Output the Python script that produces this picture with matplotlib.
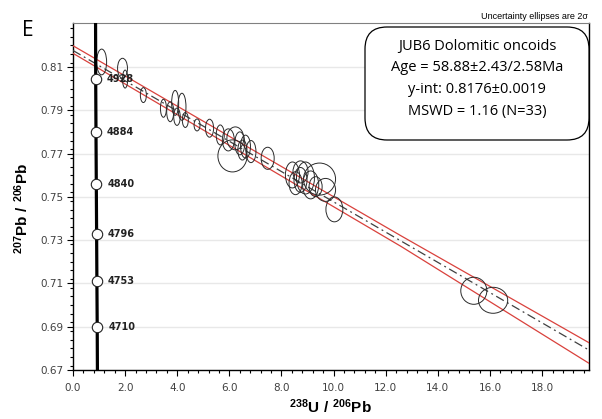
import matplotlib
import matplotlib.pyplot as plt
from matplotlib.patches import Ellipse, FancyBboxPatch
from matplotlib.ticker import MultipleLocator, FormatStrFormatter

matplotlib.use("Agg")

plt.rcParams["mathtext.fontset"] = "custom"
plt.rcParams["mathtext.rm"] = "Liberation Sans"
plt.rcParams["mathtext.bf"] = "Liberation Sans:bold"

# data points: centre and 2-sigma full width / height of each ellipse
ell_x = [1.10, 1.90, 2.00, 2.70, 3.47, 3.73, 3.92, 4.18, 3.99, 4.31, 4.76,
         5.24, 5.65, 6.12, 6.23, 6.40, 6.62, 6.83, 7.47, 5.96, 6.50,
         8.42, 8.54, 8.73, 8.92, 9.12, 9.31, 9.46, 9.69, 10.03, 8.73,
         15.38, 16.12]
ell_y = [0.8123, 0.8094, 0.8044, 0.7970, 0.7909, 0.7893, 0.7934, 0.7916, 0.7870, 0.7855, 0.7832,
         0.7817, 0.7786, 0.7689, 0.7770, 0.7747, 0.7732, 0.7709, 0.7678, 0.7763, 0.7716,
         0.7601, 0.7563, 0.7578, 0.7587, 0.7555, 0.7547, 0.7582, 0.7532, 0.7442, 0.7615,
         0.7066, 0.7022]
ell_w = [0.38, 0.38, 0.20, 0.23, 0.23, 0.27, 0.27, 0.31, 0.25, 0.23, 0.23,
         0.31, 0.31, 1.12, 0.65, 0.38, 0.38, 0.38, 0.50, 0.46, 0.35,
         0.54, 0.50, 0.50, 0.69, 0.62, 0.50, 1.23, 0.77, 0.65, 0.58,
         1.00, 1.12]
ell_h = [0.0119, 0.0092, 0.0083, 0.0069, 0.0083, 0.0092, 0.0115, 0.0125, 0.0080, 0.0069, 0.0055,
         0.0083, 0.0092, 0.0148, 0.0106, 0.0106, 0.0106, 0.0102, 0.0102, 0.0102, 0.0092,
         0.0120, 0.0106, 0.0115, 0.0148, 0.0129, 0.0092, 0.0148, 0.0106, 0.0115, 0.0102,
         0.0125, 0.0120]

# regression line and error envelope
reg_x = [0.0, 12.6, 19.8]
reg_y = [0.8176, 0.7295, 0.6792]
env_upper = [0.8198, 0.7319, 0.6826]
env_lower = [0.8163, 0.7270, 0.6731]

# concordia (Tera-Wasserburg)
conc_x = [0.866, 0.871, 0.882, 0.894, 0.906, 0.917, 0.929, 0.937]
conc_y = [0.830, 0.8045, 0.7798, 0.7561, 0.7330, 0.7111, 0.6900, 0.670]
age_labels = ["4928", "4884", "4840", "4796", "4753", "4710"]

info_lines = ["JUB6 Dolomitic oncoids", "Age = 58.88±2.43/2.58Ma",
              "y-int: 0.8176±0.0019", "MSWD = 1.16 (N=33)"]

fig = plt.figure(figsize=(6.02, 4.19), dpi=100)
ax = fig.add_axes([73 / 602, 1 - 370 / 419, 516 / 602, 347 / 419])

ax.set_xlim(0, 19.8)
ax.set_ylim(0.67, 0.8303)
ax.set_yticks([0.67, 0.69, 0.71, 0.73, 0.75, 0.77, 0.79, 0.81])
ax.xaxis.set_major_locator(MultipleLocator(2.0))
ax.xaxis.set_minor_locator(MultipleLocator(0.4))
ax.yaxis.set_minor_locator(MultipleLocator(0.004))
ax.xaxis.set_major_formatter(FormatStrFormatter("%.1f"))
ax.yaxis.set_major_formatter(FormatStrFormatter("%.2f"))
ax.tick_params(which="major", length=4, width=0.8, labelsize=7.5,
               labelcolor="#404040", pad=3)
ax.tick_params(which="minor", length=2.5, width=0.8)
ax.tick_params(axis="x", which="major", pad=5)
ax.grid(True, axis="y", color="#e8e8e8", linewidth=1)
ax.set_axisbelow(True)
ax.spines["top"].set_color("#808080")
for s in ["left", "bottom", "right"]:
    ax.spines[s].set_color("black")
    ax.spines[s].set_linewidth(1)

# envelope and regression line
ax.plot(reg_x, env_upper, color="#d9413c", linewidth=0.9, zorder=3)
ax.plot(reg_x, env_lower, color="#d9413c", linewidth=0.9, zorder=3)
ax.plot(reg_x, reg_y, color="#404040", linewidth=0.9,
        linestyle=(0, (7, 3, 1.5, 3)), zorder=3)

# ellipses
for x, y, w, h in zip(ell_x, ell_y, ell_w, ell_h):
    ax.add_patch(Ellipse((x, y), w, h, fill=False, edgecolor="#2a2a2a",
                         linewidth=0.7, zorder=4))

# concordia
ax.plot(conc_x, conc_y, color="black", linewidth=2.3, zorder=5)
ax.plot(conc_x[1:-1], conc_y[1:-1], "o", markersize=7.5, markerfacecolor="white",
        markeredgecolor="#222222", markeredgewidth=0.8, zorder=6)
for x, y, lab in zip(conc_x[1:-1], conc_y[1:-1], age_labels):
    ax.text(x + 0.42, y, lab, fontsize=7, fontweight="bold", color="#222222",
            va="center", ha="left", zorder=6)

# info box
box = FancyBboxPatch((365, 419 - 140), 224, 113, transform=None,
                     boxstyle="round,pad=0,rounding_size=22",
                     facecolor="white", edgecolor="black", linewidth=0.9, zorder=7)
fig.patches.append(box)
for i, line in enumerate(info_lines):
    fig.text(477 / 602, 1 - (46 + 21.7 * i) / 419, line, fontsize=10.5,
             family="Open Sans", ha="center", va="center", zorder=8)

fig.text(588 / 602, 1 - 16.5 / 419, "Uncertainty ellipses are 2σ", fontsize=6.5,
         family="Liberation Sans", ha="right", va="center")
fig.text(22 / 602, 1 - 30 / 419, "E", fontsize=15, family="Open Sans",
         ha="left", va="center")

fig.text(22 / 602, 1 - 208 / 419, r"$\mathbf{^{207}Pb\ /\ ^{206}Pb}$", fontsize=11,
         rotation=90, ha="center", va="center")
fig.text(330 / 602, 1 - 407 / 419, r"$\mathbf{^{238}U\ /\ ^{206}Pb}$", fontsize=11,
         ha="center", va="center")

fig.savefig("out.png", dpi=100)
